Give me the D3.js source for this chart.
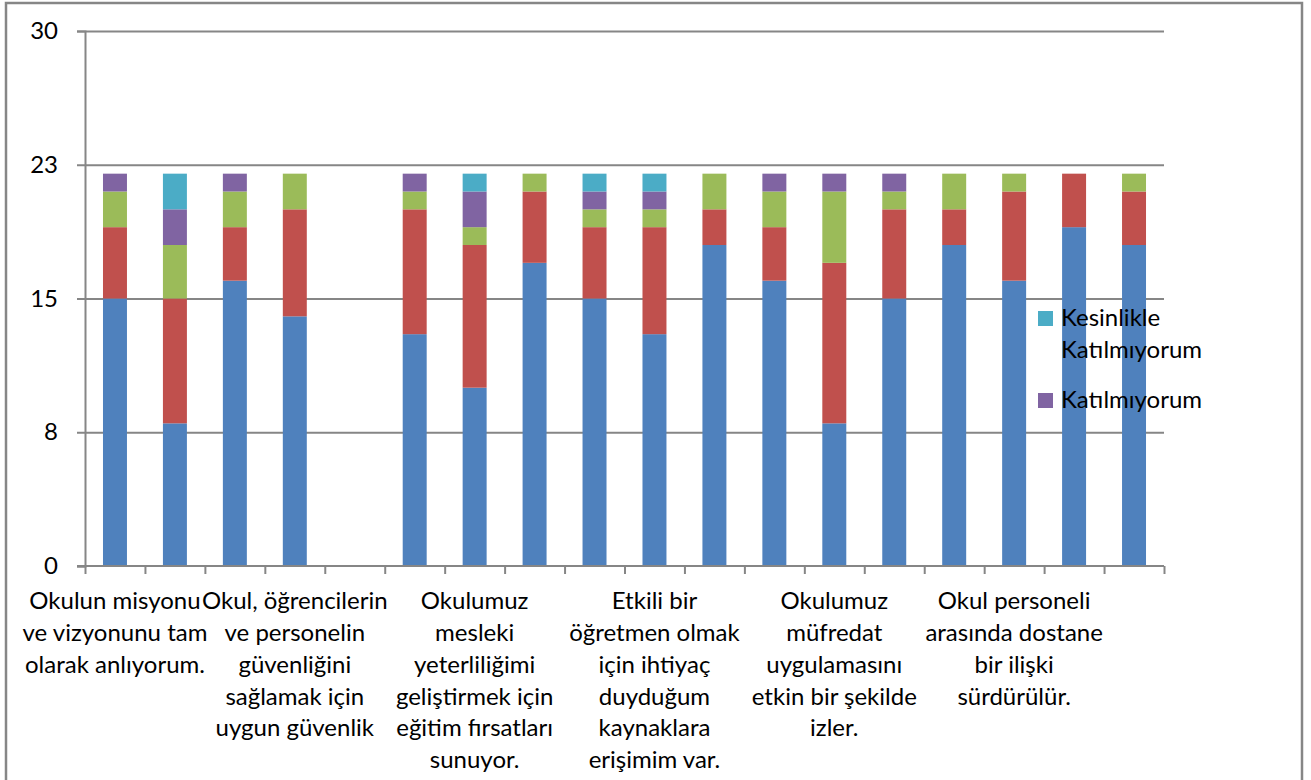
<!DOCTYPE html>
<html>
<head>
<meta charset="utf-8">
<script src="https://cdn.jsdelivr.net/npm/d3@7"></script>
<style>
	body { margin: 0; background: #fff; }
	svg { display: block; }
	.axis path, .axis line { stroke: #868686; stroke-width: 2; }
	text { font-family: Lato, "Open Sans", sans-serif; fill: #000; }
</style>
</head>
<body>
<div id="chart1"></div>
<script>
// category labels, only every third one is printed by the chart
var categoryLabels = [
	"Okulun misyonu\nve vizyonunu tam\nolarak anlıyorum.", "", "",
	"Okul, öğrencilerin\nve personelin\ngüvenliğini\nsağlamak için\nuygun güvenlik", "", "",
	"Okulumuz\nmesleki\nyeterliliğimi\ngeliştirmek için\neğitim fırsatları\nsunuyor.", "", "",
	"Etkili bir\nöğretmen olmak\niçin ihtiyaç\nduyduğum\nkaynaklara\nerişimim var.", "", "",
	"Okulumuz\nmüfredat\nuygulamasını\netkin bir şekilde\nizler.", "", "",
	"Okul personeli\narasında dostane\nbir ilişki\nsürdürülür.", "", ""
];

var seriesNames = ["Kesinlikle Katılıyorum", "Katılıyorum", "Kararsızım", "Katılmıyorum", "Kesinlikle Katılmıyorum"];
var seriesColors = ["#4F81BD", "#C0504D", "#9BBB59", "#8064A2", "#4BACC6"];

var kesinlikleKatiliyorum  = [15, 8, 16, 14, 0, 13, 10, 17, 15, 13, 18, 16, 8, 15, 18, 16, 19, 18];
var katiliyorum            = [4, 7, 3, 6, 0, 7, 8, 4, 4, 6, 2, 3, 9, 5, 2, 5, 3, 3];
var kararsizim             = [2, 3, 2, 2, 0, 1, 1, 1, 1, 1, 2, 2, 4, 1, 2, 1, 0, 1];
var katilmiyorum           = [1, 2, 1, 0, 0, 1, 2, 0, 1, 1, 0, 1, 1, 1, 0, 0, 0, 0];
var kesinlikleKatilmiyorum = [0, 2, 0, 0, 0, 0, 1, 0, 1, 1, 0, 0, 0, 0, 0, 0, 0, 0];

var yTickValues = [0, 7.5, 15, 22.5, 30];
var yTickLabels = ["0", "8", "15", "23", "30"];

// legend only shows the last two series
var legendItems = [4, 3];

draw_chart();

function draw_chart() {
	var width = 1311, height = 780, fontSize = "24px";
	var plot = {left: 85, right: 1164, top: 31, bottom: 566};

	var svg = d3.select('#chart1')
		.append("svg")
		.attr("width", width)
		.attr("height", height);

	// outer chart frame
	svg.append("rect")
		.attr("x", 6).attr("y", 3)
		.attr("width", 1296).attr("height", 800)
		.style("fill", "none")
		.style("stroke", "#868686")
		.style("stroke-width", 2.5);

	var idx = d3.range(categoryLabels.length);

	var x = d3.scaleBand()
		.domain(idx)
		.range([plot.left, plot.right])
		.paddingInner(0.6)
		.paddingOuter(0.3);

	var xEdge = d3.scaleLinear()
		.domain([0, categoryLabels.length])
		.range([plot.left, plot.right]);

	var y = d3.scaleLinear()
		.domain([0, 30])
		.range([plot.bottom, plot.top]);

	// gridlines + y axis
	var yAxis = svg.append("g")
		.attr("class", "axis")
		.attr("transform", "translate(" + plot.left + ",0)")
		.call(d3.axisLeft(y)
			.tickValues(yTickValues)
			.tickSizeOuter(0)
			.tickSize(8)
			.tickPadding(19)
			.tickFormat(function (d, i) { return yTickLabels[i]; }));
	yAxis.selectAll(".tick text").style("font-size", fontSize);

	svg.append("g")
		.attr("class", "axis grid")
		.attr("transform", "translate(" + plot.left + ",0)")
		.call(d3.axisRight(y)
			.tickValues(yTickValues.slice(1))
			.tickSize(plot.right - plot.left)
			.tickFormat(""))
		.select(".domain").remove();

	// stacked bars
	var rows = idx.map(function (i) {
		return {
			i: i,
			s0: kesinlikleKatiliyorum[i],
			s1: katiliyorum[i],
			s2: kararsizim[i],
			s3: katilmiyorum[i],
			s4: kesinlikleKatilmiyorum[i]
		};
	});
	var stack = d3.stack().keys(["s0", "s1", "s2", "s3", "s4"]);
	var layers = stack(rows);

	svg.selectAll("g.layer")
		.data(layers)
		.enter().append("g")
		.attr("class", "layer")
		.style("fill", function (d, k) { return seriesColors[k]; })
		.selectAll("rect")
		.data(function (d) { return d.filter(function (p) { return p[1] > p[0]; }); })
		.enter().append("rect")
		.attr("x", function (p) { return x(p.data.i); })
		.attr("width", x.bandwidth())
		.attr("y", function (p) { return y(p[1]); })
		.attr("height", function (p) { return y(p[0]) - y(p[1]); });

	// x axis with ticks at category edges
	var xAxis = svg.append("g")
		.attr("class", "axis")
		.attr("transform", "translate(0," + plot.bottom + ")")
		.call(d3.axisBottom(xEdge)
			.tickValues(d3.range(categoryLabels.length + 1))
			.tickSize(8)
			.tickSizeOuter(0)
			.tickFormat(""));
	xAxis.select(".domain").attr("d", "M77,0H" + plot.right);

	// wrapped category labels
	var labels = svg.append("g")
		.selectAll("text")
		.data(idx.filter(function (i) { return categoryLabels[i] !== ""; }))
		.enter().append("text")
		.attr("text-anchor", "middle")
		.style("font-size", fontSize);
	labels.each(function (i) {
		var t = d3.select(this);
		categoryLabels[i].split("\n").forEach(function (line, k) {
			t.append("tspan")
				.attr("x", x(i) + x.bandwidth() / 2)
				.attr("y", 601 + k * 31.7)
				.attr("dy", "0.35em")
				.text(line);
		});
	});

	// legend
	var legend = svg.append("g");
	var legendY = [318, 400];
	legendItems.forEach(function (k, j) {
		legend.append("rect")
			.attr("x", 1038).attr("y", legendY[j] - 7)
			.attr("width", 15).attr("height", 15)
			.style("fill", seriesColors[k]);
		var words = seriesNames[k].split(" ");
		var t = legend.append("text").style("font-size", fontSize);
		words.forEach(function (w, n) {
			t.append("tspan")
				.attr("x", 1061)
				.attr("y", legendY[j] + n * 31.7)
				.attr("dy", "0.35em")
				.text(w);
		});
	});
}
</script>
</body>
</html>
